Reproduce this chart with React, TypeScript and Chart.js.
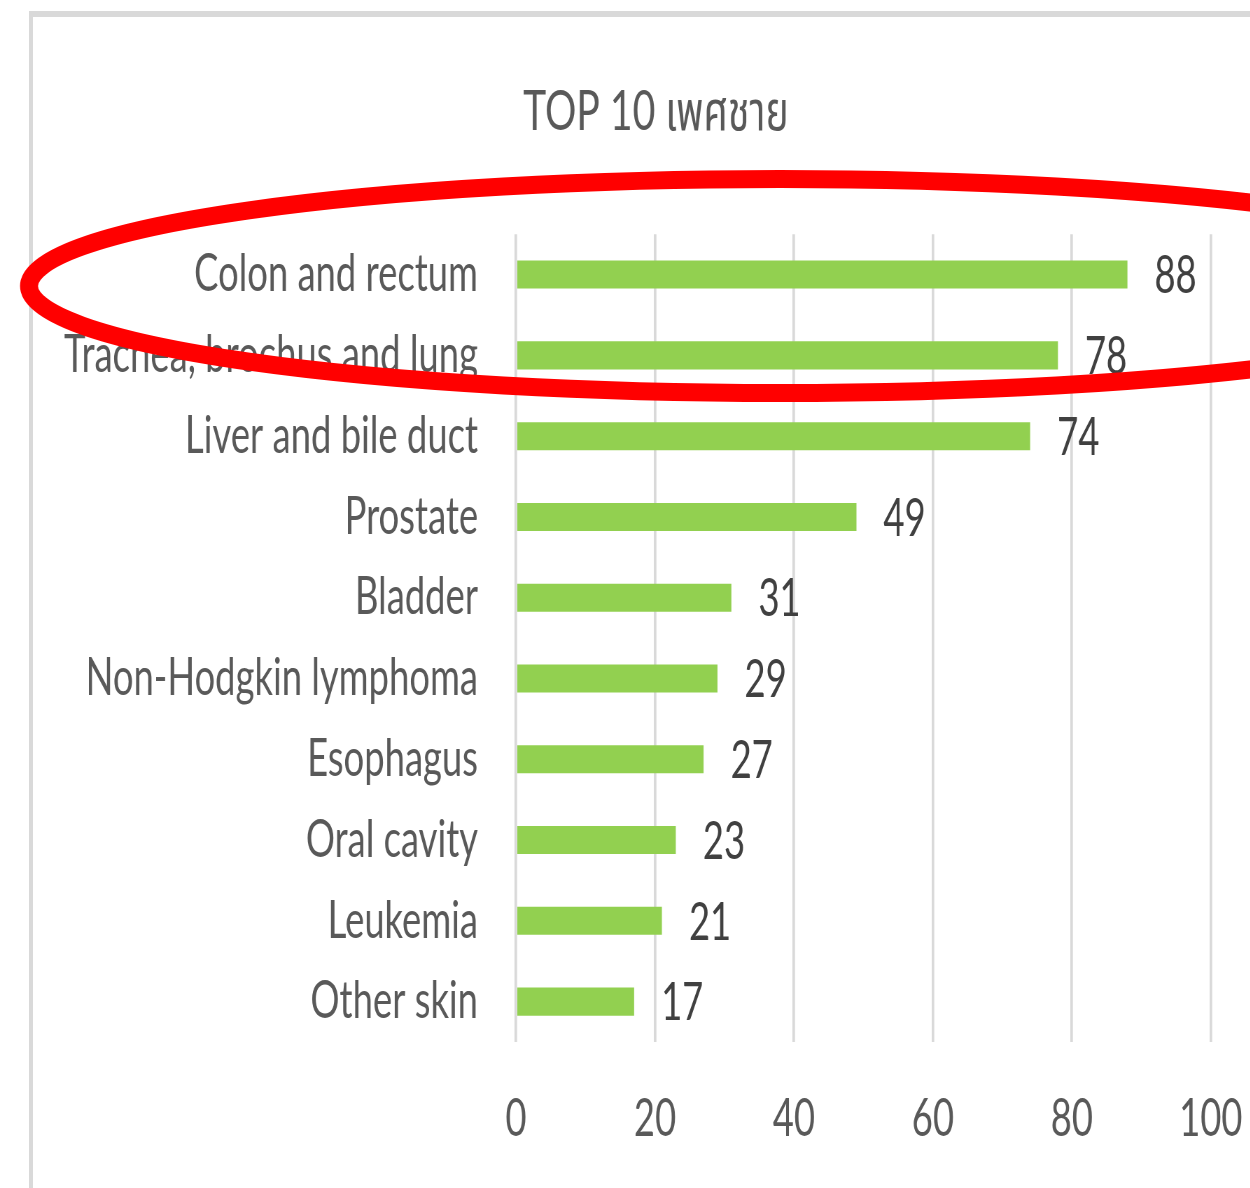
import React, { useEffect, useRef } from "react";
import { Chart, registerables } from "chart.js";

Chart.register(...registerables);

const categories = [
  "Colon and rectum",
  "Trachea, brochus and lung",
  "Liver and bile duct",
  "Prostate",
  "Bladder",
  "Non-Hodgkin lymphoma",
  "Esophagus",
  "Oral cavity",
  "Leukemia",
  "Other skin",
];
const values = [88, 78, 74, 49, 31, 29, 27, 23, 21, 17];
const xTicks = [0, 20, 40, 60, 80, 100];
const titleText = "TOP 10 เพศชาย";

// horizontal squeeze applied to the whole canvas (narrow, tall lettering)
const K = 0.7;
const DISPLAY_W = 1312;
const H = 1188;
const W = Math.round(DISPLAY_W / K);
const FONT = "Lato, 'Noto Sans Thai', 'Noto Sans', 'DejaVu Sans', sans-serif";

const valueLabels = {
  id: "valueLabels",
  afterDatasetsDraw(chart: any) {
    const ctx = chart.ctx;
    const meta = chart.getDatasetMeta(0);
    ctx.save();
    ctx.font = `52px ${FONT}`;
    ctx.fillStyle = "#404040";
    ctx.textAlign = "left";
    ctx.textBaseline = "middle";
    meta.data.forEach((bar: any, i: number) => {
      ctx.fillText(String(chart.data.datasets[0].data[i]), bar.x + 27 / K, bar.y + 2);
    });
    ctx.restore();
  },
};

const ellipseMark = {
  id: "ellipseMark",
  afterDraw(chart: any) {
    const ctx = chart.ctx;
    const dpr = chart.currentDevicePixelRatio || 1;
    ctx.save();
    ctx.setTransform(dpr / K, 0, 0, dpr, 0, 0);
    ctx.beginPath();
    ctx.ellipse(780, 286, 751, 107, 0, 0, Math.PI * 2);
    ctx.strokeStyle = "#ff0000";
    ctx.lineWidth = 18;
    ctx.stroke();
    ctx.restore();
  },
};

export default function App() {
  const ref = useRef<HTMLCanvasElement | null>(null);

  useEffect(() => {
    if (!ref.current) return;
    const chart = new Chart(ref.current, {
      type: "bar",
      data: {
        labels: categories,
        datasets: [
          {
            data: values,
            backgroundColor: "#92d050",
            borderWidth: 0,
            barPercentage: 0.347,
            categoryPercentage: 1,
          },
        ],
      },
      options: {
        indexAxis: "y",
        animation: false,
        responsive: false,
        devicePixelRatio: 1,
        layout: { padding: 0 },
        plugins: {
          legend: { display: false },
          tooltip: { enabled: false },
          title: {
            display: true,
            text: titleText,
            color: "#595959",
            font: { family: FONT, size: 56, weight: "normal" },
            padding: { top: 78, bottom: 89 },
          },
        },
        scales: {
          x: {
            type: "linear",
            min: 0,
            max: 100,
            afterBuildTicks: (s: any) => {
              s.ticks = xTicks.map((v) => ({ value: v }));
            },
            afterFit: (s: any) => {
              s.height = 146;
            },
            grid: { color: "#d9d9d9", lineWidth: 2.6 / K, drawTicks: false },
            border: { display: false },
            ticks: {
              color: "#595959",
              font: { family: FONT, size: 52 },
              padding: 46,
              maxRotation: 0,
              autoSkip: false,
            },
          },
          y: {
            afterFit: (s: any) => {
              s.width = 516 / K;
            },
            grid: { display: false, drawTicks: false },
            border: { display: false },
            ticks: {
              color: "#595959",
              font: { family: FONT, size: 52 },
              padding: 38 / K,
              autoSkip: false,
            },
          },
          yRight: {
            type: "category",
            position: "right",
            afterFit: (s: any) => {
              s.width = (DISPLAY_W - 1211) / K;
            },
            grid: { display: false, drawTicks: false },
            border: { display: false },
            ticks: { display: false },
          },
        },
      },
      plugins: [valueLabels, ellipseMark],
    } as any);
    return () => chart.destroy();
  }, []);

  return (
    <div
      style={{
        position: "fixed",
        left: 0,
        top: 0,
        width: 1250,
        height: 1188,
        overflow: "hidden",
        background: "#ffffff",
      }}
    >
      <div
        style={{
          position: "absolute",
          left: 29,
          top: 11,
          width: 1300,
          height: 1300,
          boxSizing: "border-box",
          borderTop: "6px solid #d9d9d9",
          borderLeft: "4px solid #d9d9d9",
        }}
      />
      <canvas
        ref={ref}
        width={W}
        height={H}
        style={{
          position: "absolute",
          left: 0,
          top: 0,
          width: W,
          height: H,
          transform: `scaleX(${K})`,
          transformOrigin: "0 0",
        }}
      />
    </div>
  );
}
